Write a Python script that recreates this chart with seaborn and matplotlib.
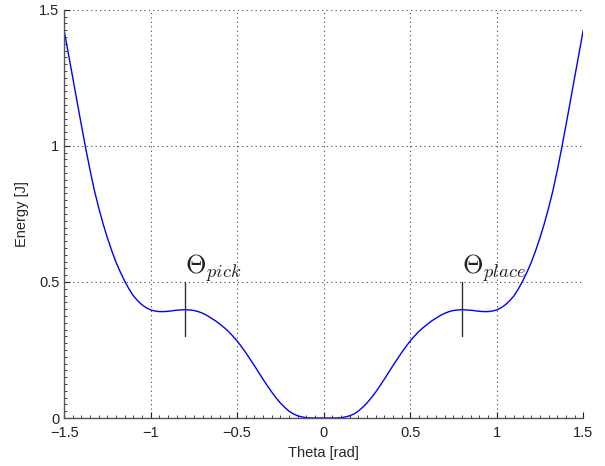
import matplotlib
matplotlib.use("Agg")
import pandas as pd
import seaborn as sns
import matplotlib.pyplot as plt
from matplotlib.ticker import MultipleLocator

# values
theta = [-1.500, -1.475, -1.450, -1.425, -1.400, -1.375, -1.350, -1.325, -1.300, -1.275,
         -1.250, -1.225, -1.200, -1.175, -1.150, -1.125, -1.100, -1.075, -1.050, -1.025,
         -1.000, -0.975, -0.950, -0.925, -0.900, -0.875, -0.850, -0.825, -0.800, -0.775,
         -0.750, -0.725, -0.700, -0.675, -0.650, -0.625, -0.600, -0.575, -0.550, -0.525,
         -0.500, -0.475, -0.450, -0.425, -0.400, -0.375, -0.350, -0.325, -0.300, -0.275,
         -0.250, -0.225, -0.200, -0.175, -0.150, -0.125, -0.100, -0.075, -0.050, -0.025,
         0.000,
         0.025, 0.050, 0.075, 0.100, 0.125, 0.150, 0.175, 0.200, 0.225, 0.250,
         0.275, 0.300, 0.325, 0.350, 0.375, 0.400, 0.425, 0.450, 0.475, 0.500,
         0.525, 0.550, 0.575, 0.600, 0.625, 0.650, 0.675, 0.700, 0.725, 0.750,
         0.775, 0.800, 0.825, 0.850, 0.875, 0.900, 0.925, 0.950, 0.975, 1.000,
         1.025, 1.050, 1.075, 1.100, 1.125, 1.150, 1.175, 1.200, 1.225, 1.250,
         1.275, 1.300, 1.325, 1.350, 1.375, 1.400, 1.425, 1.450, 1.475, 1.500]
energy = [1.425, 1.337, 1.250, 1.162, 1.075, 0.990, 0.910, 0.836, 0.772, 0.714,
          0.662, 0.615, 0.572, 0.536, 0.503, 0.474, 0.449, 0.431, 0.416, 0.405,
          0.397, 0.393, 0.391, 0.391, 0.392, 0.394, 0.396, 0.397, 0.398, 0.397,
          0.395, 0.391, 0.385, 0.377, 0.367, 0.357, 0.345, 0.332, 0.318, 0.301,
          0.283, 0.262, 0.240, 0.216, 0.192, 0.167, 0.142, 0.118, 0.095, 0.074,
          0.055, 0.039, 0.025, 0.015, 0.008, 0.004, 0.001, 0.000, 0.000, 0.000,
          0.000,
          0.000, 0.000, 0.000, 0.001, 0.004, 0.008, 0.015, 0.025, 0.039, 0.055,
          0.074, 0.095, 0.118, 0.142, 0.167, 0.192, 0.216, 0.240, 0.262, 0.283,
          0.301, 0.318, 0.332, 0.345, 0.357, 0.367, 0.377, 0.385, 0.391, 0.395,
          0.397, 0.398, 0.397, 0.396, 0.394, 0.392, 0.391, 0.391, 0.393, 0.397,
          0.405, 0.416, 0.431, 0.449, 0.474, 0.503, 0.536, 0.572, 0.615, 0.662,
          0.714, 0.772, 0.836, 0.910, 0.990, 1.075, 1.162, 1.250, 1.337, 1.425]

marker_theta = [-0.8, 0.8]
marker_names = [r"$\Theta_{pick}$", r"$\Theta_{place}$"]
marker_low, marker_high = 0.3, 0.5

df = pd.DataFrame({"Theta": theta, "Energy": energy})

sns.set_style("ticks")
plt.rcParams["font.family"] = ["Liberation Sans", "DejaVu Sans"]
plt.rcParams["mathtext.fontset"] = "cm"

fig = plt.figure(figsize=(6.05, 4.66), dpi=100)
ax = fig.add_axes([0.106, 0.103, 0.858, 0.876])

sns.lineplot(data=df, x="Theta", y="Energy", color="#0000ff", linewidth=1.0, ax=ax)

for t, name in zip(marker_theta, marker_names):
    ax.plot([t, t], [marker_low, marker_high], color="#333333", linewidth=1.0)
    ax.text(t, 0.53, name, fontsize=19, color="#222222", ha="left", va="baseline")

ax.set_xlim(-1.5, 1.5)
ax.set_ylim(0, 1.5)
ax.set_xticks([-1.5, -1, -0.5, 0, 0.5, 1, 1.5])
ax.set_xticklabels(["\u22121.5", "\u22121", "\u22120.5", "0", "0.5", "1", "1.5"])
ax.set_yticks([0, 0.5, 1, 1.5])
ax.set_yticklabels(["0", "0.5", "1", "1.5"])
ax.xaxis.set_minor_locator(MultipleLocator(0.05))
ax.yaxis.set_minor_locator(MultipleLocator(0.025))
ax.tick_params(which="both", direction="in", labelsize=10.5, colors="#222222")
ax.tick_params(axis="x", which="major", pad=6)
ax.tick_params(which="major", length=4, width=0.8)
ax.tick_params(which="minor", length=2, width=0.6)
ax.grid(True, which="major", linestyle=(0, (1, 3)), color="#444444", linewidth=0.8)

for side in ["top", "right"]:
    ax.spines[side].set_visible(False)
for side in ["left", "bottom"]:
    ax.spines[side].set_color("#555555")
    ax.spines[side].set_linewidth(1.0)

ax.set_xlabel("Theta [rad]", fontsize=10.5, labelpad=4)
ax.set_ylabel("Energy [J]", fontsize=10.5, labelpad=7)

fig.savefig("out.png", dpi=100)
